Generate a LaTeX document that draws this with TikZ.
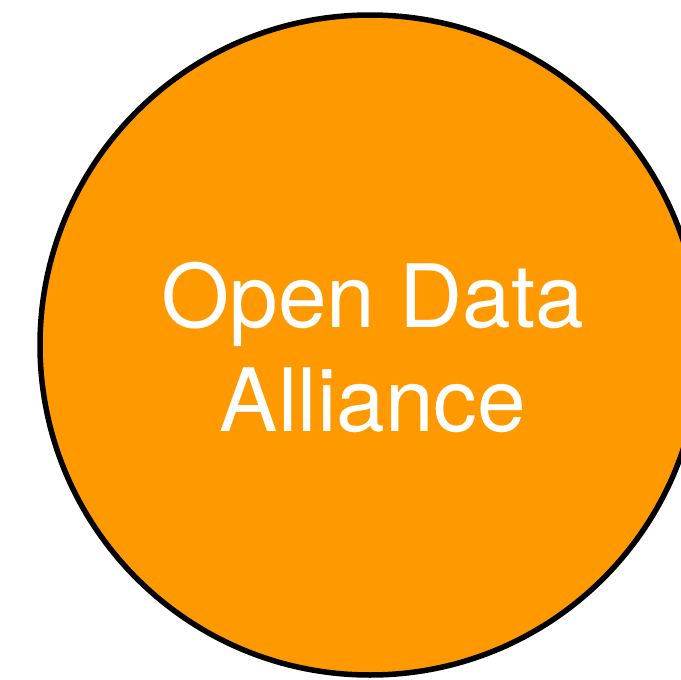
\documentclass[tikz,border=0pt]{standalone}
\usepackage{fontspec}
\setmainfont{TeX Gyre Heros}
\definecolor{oda}{RGB}{255,153,0}
\begin{document}
\begin{tikzpicture}[x=1pt,y=1pt,
  bubble/.style={circle,draw=black,line width=5.5pt,fill=oda,minimum size=660pt,inner sep=0pt},
  label/.style={text=white,align=center,font=\fontsize{87.5}{104}\selectfont}]
\useasboundingbox (0,0) rectangle (681,-680);
\clip (0,0) rectangle (681,-680);
\node[bubble] (c) at (370,-345) {};
\node[label] (t) at (373,-347) {Open Data\\Alliance};
\end{tikzpicture}
\end{document}
